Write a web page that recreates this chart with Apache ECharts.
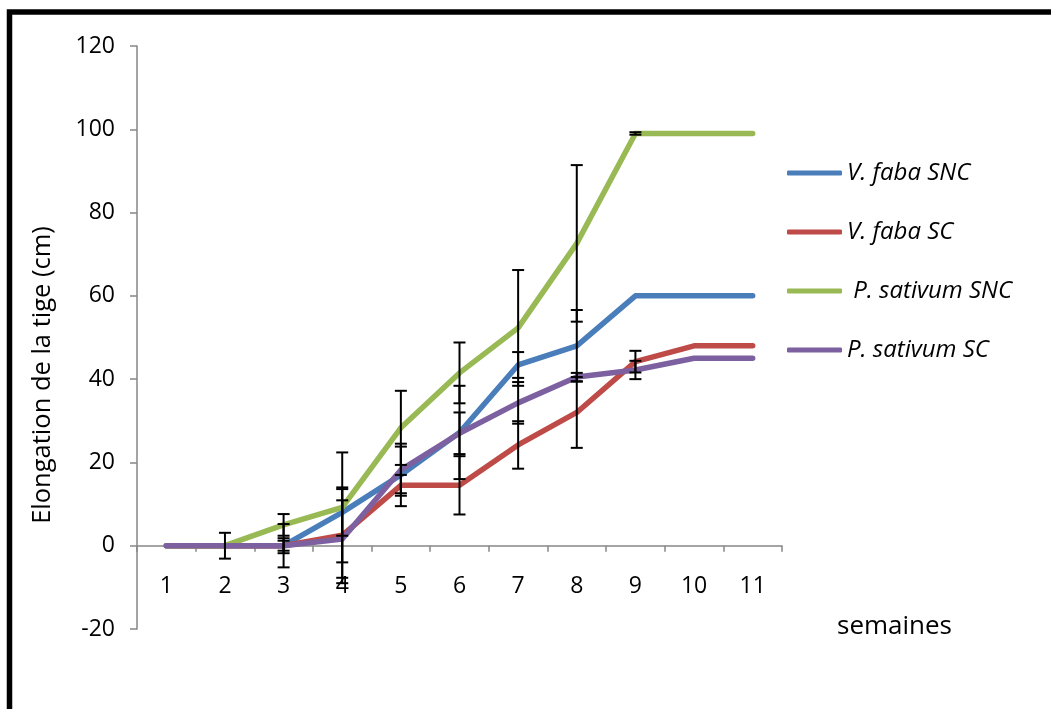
<!DOCTYPE html>
<html>
<head>
<meta charset="utf-8">
<script src="https://cdn.jsdelivr.net/npm/echarts@6/dist/echarts.min.js"></script>
<style>
  html, body { margin: 0; padding: 0; background: #fff; }
  #chart { width: 1051px; height: 709px; }
</style>
</head>
<body>
<div id="chart"></div>
<script>
// Weeks on the horizontal axis
const weeks = ['1', '2', '3', '4', '5', '6', '7', '8', '9', '10', '11'];

// Stem elongation (cm) per week
const vFabaSNC     = [0, 0, 0, 8, 17, 27.2, 43.4, 48, 60, 60, 60];
const vFabaSC      = [0, 0, 0, 2.5, 14.5, 14.5, 24.2, 32, 44.2, 48, 48];
const pSativumSNC  = [0, 0, 5, 9.2, 28.3, 41.5, 52.3, 72.6, 99, 99, 99];
const pSativumSC   = [0, 0, 0, 1.6, 18.2, 27, 34.3, 40.5, 42.2, 45, 45];

// Error bar half-widths (± cm) per week
const vFabaSNCErr    = [0, 0, 1.2, 5.6, 7.5, 11.2, 3.1, 8.6, 0, 0, 0];
const vFabaSCErr     = [0, 0, 5.2, 11.5, 2.5, 7, 5.7, 8.5, 2.6, 0, 0];
const pSativumSNCErr = [0, 3.1, 2.6, 13.2, 8.9, 7.3, 13.9, 18.8, 0.3, 0, 0];
const pSativumSCErr  = [0, 0, 1.8, 9.3, 5.6, 5, 5, 1, 2.2, 0, 0];

const yTicks = { min: -20, max: 120, interval: 20 };

const seriesDefs = [
  { name: 'V. faba SNC',     values: vFabaSNC,    err: vFabaSNCErr,    color: '#4A7EBB' },
  { name: 'V. faba SC',      values: vFabaSC,     err: vFabaSCErr,     color: '#BE4B48' },
  { name: ' P. sativum SNC', values: pSativumSNC, err: pSativumSNCErr, color: '#98B954' },
  { name: 'P. sativum SC',   values: pSativumSC,  err: pSativumSCErr,  color: '#7D60A0' }
];

const FONT = '"Open Sans", "Noto Sans", sans-serif';

// Plot area geometry
const GRID = { left: 137, right: 269, top: 46, bottom: 80 };
const plotHeight = 709 - GRID.top - GRID.bottom;
// Shift the category axis up so it sits on the zero line
const zeroOffset = -plotHeight * (0 - yTicks.min) / (yTicks.max - yTicks.min);

function errorBarData(def) {
  const out = [];
  def.values.forEach(function (v, i) {
    if (v != null && def.err[i] > 0) out.push([i, v - def.err[i], v + def.err[i]]);
  });
  return out;
}

function renderErrorBar(params, api) {
  const x = api.value(0);
  const lo = api.coord([x, api.value(1)]);
  const hi = api.coord([x, api.value(2)]);
  const half = 6;
  const style = { stroke: '#000', lineWidth: 2 };
  return {
    type: 'group',
    children: [
      { type: 'line', shape: { x1: lo[0], y1: lo[1], x2: hi[0], y2: hi[1] }, style: style },
      { type: 'line', shape: { x1: lo[0] - half, y1: lo[1], x2: lo[0] + half, y2: lo[1] }, style: style },
      { type: 'line', shape: { x1: hi[0] - half, y1: hi[1], x2: hi[0] + half, y2: hi[1] }, style: style }
    ]
  };
}

const series = [];
seriesDefs.forEach(function (def) {
  series.push({
    name: def.name,
    type: 'line',
    data: def.values,
    symbol: 'none',
    smooth: false,
    z: 2,
    color: def.color,
    lineStyle: { color: def.color, width: 5.5, cap: 'round', join: 'round' }
  });
});
seriesDefs.forEach(function (def) {
  series.push({
    name: def.name + ' err',
    type: 'custom',
    data: errorBarData(def),
    renderItem: renderErrorBar,
    z: 5,
    silent: true,
    encode: { x: 0, y: [1, 2] }
  });
});

const chart = echarts.init(document.getElementById('chart'), null, { renderer: 'canvas' });
chart.setOption({
  backgroundColor: '#ffffff',
  animation: false,
  grid: { left: GRID.left, right: GRID.right, top: GRID.top, bottom: GRID.bottom, containLabel: false },
  title: {
    text: 'semaines',
    left: 837,
    top: 614,
    padding: 0,
    textStyle: { fontFamily: FONT, fontSize: 26, fontWeight: 'normal', color: '#000' }
  },
  legend: {
    data: seriesDefs.map(function (d) {
      return { name: d.name, icon: 'roundRect', itemStyle: { color: d.color } };
    }),
    orient: 'vertical',
    left: 787,
    top: 161,
    padding: 0,
    itemWidth: 55,
    itemHeight: 5,
    itemGap: 35,
    textStyle: { fontFamily: FONT, fontSize: 24, fontStyle: 'italic', color: '#000', padding: [0, 0, 0, 0] }
  },
  xAxis: {
    type: 'category',
    data: weeks,
    boundaryGap: true,
    offset: zeroOffset,
    axisLine: { onZero: false, lineStyle: { color: '#868686', width: 1.5 } },
    axisTick: { show: true, length: 6, alignWithLabel: false, lineStyle: { color: '#868686', width: 1.5 } },
    axisLabel: { margin: 29, fontFamily: FONT, fontSize: 23, color: '#000' },
    splitLine: { show: false }
  },
  yAxis: {
    type: 'value',
    min: yTicks.min,
    max: yTicks.max,
    interval: yTicks.interval,
    axisLine: { show: true, lineStyle: { color: '#868686', width: 1.5 } },
    axisTick: { show: true, length: 7, lineStyle: { color: '#868686', width: 1.5 } },
    axisLabel: { margin: 22, fontFamily: FONT, fontSize: 23, color: '#000' },
    splitLine: { show: false }
  },
  graphic: [
    {
      // Vertical axis title
      type: 'text',
      x: 43,
      y: 375,
      rotation: Math.PI / 2,
      style: {
        text: 'Elongation de la tige (cm)',
        font: '25.5px "Open Sans", "Noto Sans", sans-serif',
        fill: '#000',
        align: 'center',
        verticalAlign: 'middle'
      },
      silent: true
    },
    {
      // Chart frame
      type: 'rect',
      shape: { x: 9.5, y: 12, width: 1200, height: 900 },
      style: { fill: null, stroke: '#000', lineWidth: 5.5 },
      silent: true,
      z: 100
    }
  ],
  series: series
});
</script>
</body>
</html>
